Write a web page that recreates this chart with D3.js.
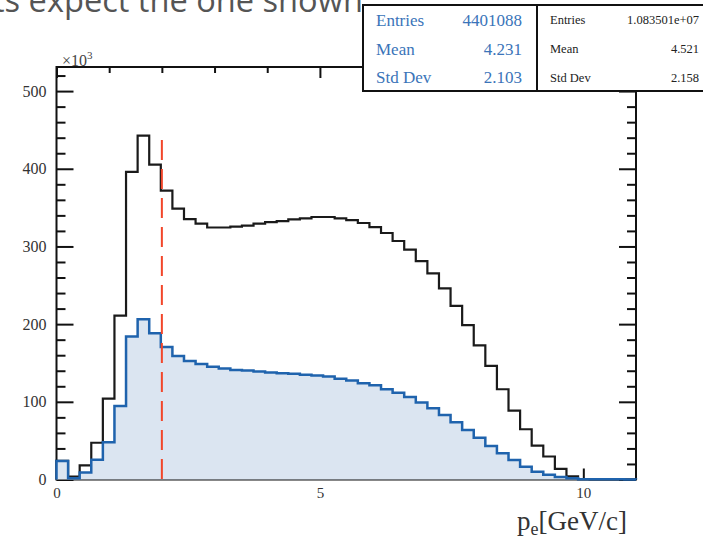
<!DOCTYPE html>
<html><head><meta charset="utf-8">
<script src="https://cdn.jsdelivr.net/npm/d3@7"></script>
<style>
html,body{margin:0;padding:0;background:#fff;overflow:hidden}
svg{display:block}
</style></head><body>
<svg id="chart" width="703" height="539"></svg>
<script>
// Electron momentum: 50 bins of 0.22 GeV/c spanning [0, 11]
const binCount = 50;
const xRange = [0, 11];
const yRange = [0, 531];

// All electrons (black outline), entries per bin in units of 10^3
const allCounts = [
  24, 3.6, 18.3, 47.3, 104.1, 211, 395.9, 442.7, 405.3, 371.8,
  348.6, 335.3, 329.4, 324.4, 324.4, 325.4, 326.7, 329.3, 331.4, 332.7,
  334.8, 336.1, 337.9, 337.9, 336.1, 334, 330.2, 325, 317.3, 307,
  296, 281.2, 265.3, 246, 223.6, 198.8, 172.7, 146.3, 116.2, 88.7,
  64.7, 43.6, 29.6, 13.8, 4.1, 0.5, 0, 0, 0, 0
];

// Selected electrons (blue, filled), entries per bin in units of 10^3
const selCounts = [
  23.8, 1.5, 9.0, 25.4, 47.9, 94.7, 184, 206.4, 188.4, 170.7,
  159.1, 152.7, 148.8, 145, 143, 141.1, 140.2, 138.9, 137.6, 136.9,
  136, 134.7, 133.8, 132.7, 129.8, 127.3, 124, 121.4, 116.2, 111.7,
  106.3, 99, 91.8, 83.1, 73.7, 63.8, 53.9, 43.2, 33.8, 25.1,
  16.5, 10.1, 6.1, 3.2, 1.5, 0.4, 0.3, 0.2, 0.2, 0.1
];

// Momentum cut
const cutValue = 2.0;

// Axis ticks
const yMajorTicks = [0, 100, 200, 300, 400, 500];
const yMinorTicks = [20, 40, 60, 80, 120, 140, 160, 180, 220, 240, 260, 280, 320, 340, 360, 380, 420, 440, 460, 480, 520];
const xMajorTicks = [0, 5, 10];
const xMinorTicks = [1, 2, 3, 4, 6, 7, 8, 9];

// Statistics boxes
const statLabels = ["Entries", "Mean", "Std Dev"];
const selStats = ["4401088", "4.231", "2.103"];
const allStats = ["1.083501e+07", "4.521", "2.158"];

const headline = "ts expect the one shown";

const svg = d3.select("#chart");
const frame = {left: 56.5, right: 636, top: 67, bottom: 479.5};

const x = d3.scaleLinear().domain(xRange).range([frame.left, frame.right]);
const y = d3.scaleLinear().domain(yRange).range([frame.bottom, frame.top]);

const serif = "'Liberation Serif', 'DejaVu Serif', serif";
const blueLine = "#1f63ad";
const blueFill = "#dbe5f1";
const statBlue = "#3a74b9";

// Headline text behind the statistics boxes
svg.append("text")
  .attr("x", -7).attr("y", 12)
  .attr("font-family", "'Open Sans', sans-serif")
  .attr("font-size", 32.6)
  .attr("fill", "#555")
  .text(headline);

// Bin edges
const binWidth = (xRange[1] - xRange[0]) / binCount;
const edges = d3.range(binCount + 1).map(i => xRange[0] + i * binWidth);

function stepPoints(counts) {
  const pts = [[edges[0], 0]];
  counts.forEach((v, i) => {
    pts.push([edges[i], v]);
    pts.push([edges[i + 1], v]);
  });
  pts.push([edges[binCount], 0]);
  return pts;
}

const line = d3.line().x(d => x(d[0])).y(d => y(d[1]));

// Frame
svg.append("rect")
  .attr("x", frame.left).attr("y", frame.top)
  .attr("width", frame.right - frame.left)
  .attr("height", frame.bottom - frame.top)
  .attr("fill", "none")
  .attr("stroke", "#111")
  .attr("stroke-width", 2);

// Axes with inward ticks
function styleAxis(g) {
  g.select(".domain").remove();
  g.selectAll(".tick line").attr("stroke", "#111").attr("stroke-width", 2);
  g.selectAll(".tick text")
    .attr("font-family", serif)
    .attr("fill", "#333");
}

svg.append("g").attr("transform", `translate(${frame.left},0)`)
  .call(d3.axisLeft(y).tickValues(yMajorTicks).tickSize(-17).tickPadding(10).tickFormat(d3.format("d")))
  .call(styleAxis)
  .call(g => g.selectAll(".tick text").attr("font-size", 16));
svg.append("g").attr("transform", `translate(${frame.left},0)`)
  .call(d3.axisLeft(y).tickValues(yMinorTicks).tickSize(-9).tickFormat(""))
  .call(styleAxis);
svg.append("g").attr("transform", `translate(${frame.right},0)`)
  .call(d3.axisRight(y).tickValues(yMajorTicks).tickSize(-17).tickFormat(""))
  .call(styleAxis);
svg.append("g").attr("transform", `translate(${frame.right},0)`)
  .call(d3.axisRight(y).tickValues(yMinorTicks).tickSize(-9).tickFormat(""))
  .call(styleAxis);

svg.append("g").attr("transform", `translate(0,${frame.bottom})`)
  .call(d3.axisBottom(x).tickValues(xMajorTicks).tickSize(-11).tickPadding(8).tickFormat(d3.format("d")))
  .call(styleAxis)
  .call(g => g.selectAll(".tick text").attr("font-size", 15));
svg.append("g").attr("transform", `translate(0,${frame.bottom})`)
  .call(d3.axisBottom(x).tickValues(xMinorTicks).tickSize(-6).tickFormat(""))
  .call(styleAxis);
svg.append("g").attr("transform", `translate(0,${frame.top})`)
  .call(d3.axisTop(x).tickValues(xMajorTicks).tickSize(-11).tickFormat(""))
  .call(styleAxis);
svg.append("g").attr("transform", `translate(0,${frame.top})`)
  .call(d3.axisTop(x).tickValues(xMinorTicks).tickSize(-6).tickFormat(""))
  .call(styleAxis);

// All-electron histogram (outline)
svg.append("path")
  .attr("d", line(stepPoints(allCounts)))
  .attr("fill", "none")
  .attr("stroke", "#1a1a1a")
  .attr("stroke-width", 2.2)
  .attr("stroke-linejoin", "miter");

// Selected histogram (filled)
const selPts = stepPoints(selCounts);
svg.append("path")
  .attr("d", line(selPts) + "Z")
  .attr("fill", blueFill)
  .attr("stroke", "none");
svg.append("path")
  .attr("d", line(selPts))
  .attr("fill", "none")
  .attr("stroke", blueLine)
  .attr("stroke-width", 2.5)
  .attr("stroke-linejoin", "miter");

// Cut line
svg.append("line")
  .attr("x1", x(cutValue)).attr("x2", x(cutValue))
  .attr("y1", y(437)).attr("y2", y(0))
  .attr("stroke", "#f2462a")
  .attr("stroke-width", 2)
  .attr("stroke-dasharray", "20 9");

// Exponent label
const expo = svg.append("text")
  .attr("x", 62).attr("y", 66)
  .attr("font-family", serif)
  .attr("font-size", 16)
  .attr("fill", "#444");
expo.append("tspan").text("×10");
expo.append("tspan").attr("dy", -7).attr("font-size", 11).text("3");

// X axis title
const title = svg.append("text")
  .attr("x", 627).attr("y", 530)
  .attr("text-anchor", "end")
  .attr("font-family", serif)
  .attr("font-size", 27)
  .attr("fill", "#333");
title.append("tspan").text("p");
title.append("tspan").attr("dy", 5).attr("font-size", 18).text("e");
title.append("tspan").attr("dy", -5).text("[GeV/c]");

// Statistics boxes
function statBox(x0, x1, values, opts) {
  svg.append("rect")
    .attr("x", x0).attr("y", 5)
    .attr("width", x1 - x0).attr("height", 86)
    .attr("fill", "#fff")
    .attr("stroke", "#111")
    .attr("stroke-width", 2);
  statLabels.forEach((lab, i) => {
    svg.append("text")
      .attr("x", x0 + opts.pad).attr("y", opts.baselines[i])
      .attr("font-family", serif).attr("font-size", opts.size)
      .attr("fill", opts.color).text(lab);
    svg.append("text")
      .attr("x", x1 - opts.padRight).attr("y", opts.baselines[i])
      .attr("text-anchor", "end")
      .attr("font-family", serif).attr("font-size", opts.size)
      .attr("fill", opts.color).text(values[i]);
  });
}
statBox(537, 708, allStats, {pad: 13, padRight: 9, size: 12.5, color: "#222", baselines: [24, 52.5, 81.5]});
statBox(363, 537, selStats, {pad: 13, padRight: 15, size: 17, color: statBlue, baselines: [26, 55, 83]});
</script>
</body></html>
